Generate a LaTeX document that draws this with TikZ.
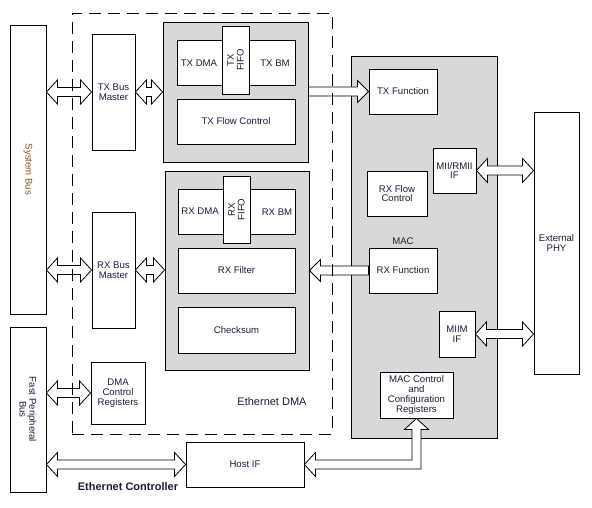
\documentclass[tikz,border=0pt]{standalone}
\usepackage{fontspec}
\setmainfont{Liberation Sans}
\usetikzlibrary{calc,fit}
\definecolor{boxgray}{RGB}{216,216,216}
\definecolor{txtc}{RGB}{28,28,58}
\definecolor{busbrown}{RGB}{140,80,30}
\newcommand{\lblfont}{\fontsize{9.6}{9.8}\selectfont}
\newcommand{\dblarrow}[2]{%
\draw[fat] let \p1=(#1), \p2=(#2) in
 (\x1,\y1) -- (\x1+11pt,\y1+12pt) -- (\x1+11pt,\y1+4.5pt) -- (\x2-11pt,\y1+4.5pt)
 -- (\x2-11pt,\y1+12pt) -- (\x2,\y1) -- (\x2-11pt,\y1-12pt) -- (\x2-11pt,\y1-4.5pt)
 -- (\x1+11pt,\y1-4.5pt) -- (\x1+11pt,\y1-12pt) -- cycle;}
\newcommand{\onearrow}[2]{%
\draw[fat] let \p1=(#1), \p2=(#2), \p3=($(#2)!11pt!(#1)$) in
 (\x1,\y1+4.5pt) -- (\x3,\y1+4.5pt) -- (\x3,\y1+11pt) -- (\x2,\y1)
 -- (\x3,\y1-11pt) -- (\x3,\y1-4.5pt) -- (\x1,\y1-4.5pt) -- cycle;}
\newcommand{\elbowarrow}[2]{%
\draw[fat] let \p1=(#1), \p2=(#2) in
 (\x1,\y1) -- (\x1+11pt,\y1+12pt) -- (\x1+11pt,\y1+4.5pt) -- (\x2-4.5pt,\y1+4.5pt)
 -- (\x2-4.5pt,\y2-11pt) -- (\x2-12pt,\y2-11pt) -- (\x2,\y2) -- (\x2+12pt,\y2-11pt)
 -- (\x2+4.5pt,\y2-11pt) -- (\x2+4.5pt,\y1-4.5pt) -- (\x1+11pt,\y1-4.5pt)
 -- (\x1+11pt,\y1-12pt) -- cycle;}
\tikzset{
 blk/.style={draw=black, line width=0.9pt, fill=white, inner sep=0pt},
 grp/.style={draw=black, line width=0.9pt, fill=boxgray, inner sep=0pt},
 lab/.style={inner sep=0pt, text=txtc, align=center, font=\lblfont},
 fat/.style={draw=black, line width=0.8pt, fill=white, line join=miter},
 dbox/.style={draw=black, line width=0.9pt, dash pattern=on 12pt off 7pt, inner sep=0pt},
}
\begin{document}
\begin{tikzpicture}[x=1pt,y=-1pt]
\useasboundingbox[fill=white] (0,0) rectangle (592,508);
% group boxes
\node[grp, fit={(163,22)(308,162)}] (txg) {};
\node[grp, fit={(165,171)(309,370)}] (rxg) {};
\node[grp, fit={(351,56)(497,438)}] (mac) {};
% buses
\node[blk, fit={(10,25)(46,314)}] (sb) {};
\node[lab, rotate=-90, text=busbrown] (sbl) at (sb) {System Bus};
\node[blk, fit={(10,327)(46,492)}] (fpb) {};
\node[lab, rotate=-90] (fpbl) at (fpb) {Fast Peripheral\\Bus};
% TX path
\node[blk, fit={(92,34)(135,150)}] (txbm) {};
\node[lab] (txbml) at (txbm) {TX Bus\\Master};
\node[blk, fit={(177,40)(295,85)}] (txdma) {};
\node[lab] (txdmal) at (199,63) {TX DMA};
\node[lab] (txbmtl) at (275,63) {TX BM};
\node[blk, fit={(222,26)(249,94)}] (txfifo) {};
\node[lab, rotate=90] (txfifol) at (txfifo) {TX\\FIFO};
\node[blk, fit={(177,99)(295,144)}] (txfc) {};
\node[lab] (txfcl) at (txfc) {TX Flow Control};
% RX path
\node[blk, fit={(92,212)(135,328)}] (rxbm) {};
\node[lab] (rxbml) at (rxbm) {RX Bus\\Master};
\node[blk, fit={(178,189)(295,234)}] (rxdma) {};
\node[lab] (rxdmal) at (200,211) {RX DMA};
\node[lab] (rxbmtl) at (277,212) {RX BM};
\node[blk, fit={(223,176)(250,243)}] (rxfifo) {};
\node[lab, rotate=90] (rxfifol) at (rxfifo) {RX\\FIFO};
\node[blk, fit={(178,248)(295,293)}] (rxfilt) {};
\node[lab] (rxfiltl) at (rxfilt) {RX Filter};
\node[blk, fit={(178,307)(295,353)}] (cks) {};
\node[lab] (cksl) at (cks) {Checksum};
% DMA control & host
\node[blk, fit={(91,362)(145,424)}] (dmacr) {};
\node[lab] (dmacrl) at (dmacr) {DMA\\Control\\Registers};
\node[blk, fit={(186,442)(304,487)}] (host) {};
\node[lab] (hostl) at (host) {Host IF};
% MAC
\node[blk, fit={(369,69)(437,114)}] (txf) {};
\node[lab] (txfl) at (txf) {TX Function};
\node[blk, fit={(433,148)(476,193)}] (mii) {};
\node[lab] (miil) at (mii) {MII/RMII\\IF};
\node[blk, fit={(367,171)(427,216)}] (rxfc) {};
\node[lab] (rxfcl) at (rxfc) {RX Flow\\Control};
\node[lab] (maclbl) at (403,241) {MAC};
\node[blk, fit={(369,248)(437,293)}] (rxf) {};
\node[lab] (rxfl) at (rxf) {RX Function};
\node[blk, fit={(439,311)(475,357)}] (miim) {};
\node[lab] (miiml) at (miim) {MIIM\\IF};
\node[blk, fit={(380,372)(453,418)}] (mcc) {};
\node[lab] (mccl) at (mcc) {MAC Control\\and\\Configuration\\Registers};
\node[blk, fit={(534,112)(579,374)}] (phy) {};
\node[lab] (phyl) at (phy) {External\\PHY};
% arrows
\dblarrow{sb.east |- txbm}{txbm.west}
\dblarrow{txbm.east}{txg.west |- txbm}
\dblarrow{sb.east |- rxbm}{rxbm.west}
\dblarrow{rxbm.east}{rxg.west |- rxbm}
\dblarrow{fpb.east |- dmacr}{dmacr.west}
\dblarrow{fpb.east |- host}{host.west}
\dblarrow{mii.east}{phy.west |- mii}
\dblarrow{miim.east}{phy.west |- miim}
\onearrow{txg.east |- txf}{txf.west}
\onearrow{rxf.west}{rxg.east |- rxf}
\elbowarrow{host.east}{mcc.south}
% dashed Ethernet DMA boundary
\node[dbox, fit={(72,13)(332,434)}] (edma) {};
\node[lab, font=\fontsize{11}{12}\selectfont] (edmal) at (272,402) {Ethernet DMA};
\node[lab, font=\fontsize{11}{12}\selectfont\bfseries] (ectl) at (128,487) {Ethernet Controller};
\end{tikzpicture}
\end{document}
